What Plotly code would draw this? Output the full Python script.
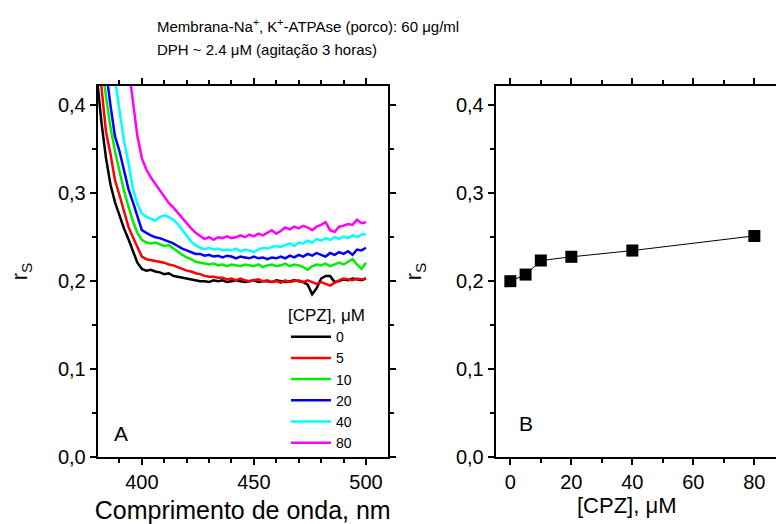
import plotly.graph_objects as go

# --- data ---
wavelength = list(range(380, 502, 2))  # nm

rs_0 = [0.430, 0.380, 0.340, 0.310, 0.290, 0.275, 0.260, 0.248, 0.234, 0.221,
        0.214, 0.212, 0.213, 0.211, 0.210, 0.208, 0.209, 0.206, 0.205, 0.204,
        0.203, 0.202, 0.201, 0.200, 0.200, 0.199, 0.201, 0.200, 0.201, 0.199,
        0.200, 0.201, 0.200, 0.199, 0.200, 0.201, 0.199, 0.200, 0.200, 0.199,
        0.201, 0.200, 0.199, 0.200, 0.201, 0.200, 0.199, 0.196, 0.185, 0.192,
        0.203, 0.206, 0.206, 0.199, 0.200, 0.202, 0.201, 0.203, 0.202, 0.201,
        0.203]
rs_5 = [0.470, 0.420, 0.370, 0.345, 0.315, 0.298, 0.280, 0.262, 0.250, 0.238,
        0.228, 0.225, 0.224, 0.223, 0.222, 0.221, 0.219, 0.218, 0.216, 0.214,
        0.212, 0.211, 0.209, 0.208, 0.206, 0.205, 0.205, 0.204, 0.204, 0.202,
        0.203, 0.201, 0.203, 0.201, 0.200, 0.201, 0.202, 0.200, 0.201, 0.199,
        0.200, 0.198, 0.201, 0.199, 0.200, 0.201, 0.199, 0.201, 0.199, 0.197,
        0.199, 0.197, 0.195, 0.198, 0.201, 0.203, 0.202, 0.201, 0.203, 0.202,
        0.203]
rs_10 = [0.520, 0.450, 0.410, 0.375, 0.348, 0.325, 0.303, 0.285, 0.268, 0.255,
         0.247, 0.244, 0.243, 0.244, 0.242, 0.240, 0.241, 0.237, 0.234, 0.230,
         0.227, 0.225, 0.222, 0.221, 0.220, 0.219, 0.220, 0.218, 0.219, 0.217,
         0.219, 0.218, 0.217, 0.219, 0.218, 0.217, 0.219, 0.216, 0.218, 0.219,
         0.217, 0.218, 0.220, 0.217, 0.219, 0.218, 0.216, 0.213, 0.217, 0.219,
         0.218, 0.220, 0.217, 0.219, 0.221, 0.219, 0.222, 0.225, 0.219, 0.214,
         0.221]
rs_20 = [0.560, 0.500, 0.440, 0.400, 0.365, 0.348, 0.325, 0.305, 0.290, 0.274,
         0.258, 0.255, 0.252, 0.250, 0.249, 0.247, 0.245, 0.243, 0.240, 0.237,
         0.235, 0.233, 0.231, 0.231, 0.229, 0.230, 0.228, 0.229, 0.227, 0.229,
         0.228, 0.226, 0.228, 0.227, 0.226, 0.228, 0.226, 0.227, 0.225, 0.227,
         0.226, 0.228, 0.226, 0.229, 0.227, 0.230, 0.228, 0.231, 0.229, 0.232,
         0.230, 0.228, 0.232, 0.230, 0.233, 0.231, 0.234, 0.230, 0.236, 0.235,
         0.238]
rs_40 = [0.660, 0.600, 0.540, 0.480, 0.430, 0.395, 0.360, 0.335, 0.305, 0.288,
         0.277, 0.273, 0.271, 0.269, 0.273, 0.275, 0.273, 0.270, 0.265, 0.258,
         0.251, 0.245, 0.241, 0.238, 0.236, 0.238, 0.236, 0.237, 0.235, 0.236,
         0.235, 0.237, 0.234, 0.236, 0.235, 0.233, 0.236, 0.238, 0.237, 0.239,
         0.240, 0.239, 0.241, 0.243, 0.240, 0.244, 0.243, 0.246, 0.244, 0.248,
         0.246, 0.249, 0.247, 0.250, 0.248, 0.251, 0.249, 0.252, 0.250, 0.253,
         0.253]
rs_80 = [0.800, 0.720, 0.650, 0.580, 0.520, 0.480, 0.450, 0.445, 0.405, 0.365,
         0.340, 0.327, 0.318, 0.311, 0.304, 0.296, 0.289, 0.284, 0.278, 0.272,
         0.265, 0.260, 0.255, 0.251, 0.248, 0.250, 0.247, 0.250, 0.249, 0.251,
         0.249, 0.250, 0.252, 0.250, 0.253, 0.251, 0.254, 0.252, 0.255, 0.258,
         0.254, 0.257, 0.261, 0.259, 0.262, 0.260, 0.263, 0.261, 0.258, 0.262,
         0.264, 0.267, 0.258, 0.256, 0.262, 0.263, 0.265, 0.264, 0.270, 0.266,
         0.267]

cpz_labels = ["0", "5", "10", "20", "40", "80"]
spectra = [rs_0, rs_5, rs_10, rs_20, rs_40, rs_80]
colors = ["black", "red", "#00ee00", "blue", "cyan", "magenta"]

cpz_conc = [0, 5, 10, 20, 40, 80]   # uM
rs_plateau = [0.200, 0.2075, 0.2235, 0.2277, 0.2348, 0.2515]

FONT = "Liberation Sans, Arial, sans-serif"
W, H = 776, 524

fig = go.Figure()

# --- panel A: spectra ---
for lab, ys, col in zip(cpz_labels, spectra, colors):
    fig.add_trace(go.Scatter(
        x=wavelength, y=ys, mode="lines", name=lab,
        line=dict(color=col, width=2.5),
        xaxis="x", yaxis="y"
    ))

# --- panel B: rs vs [CPZ] ---
fig.add_trace(go.Scatter(
    x=cpz_conc, y=rs_plateau, mode="lines+markers",
    line=dict(color="black", width=1),
    marker=dict(symbol="square", size=12, color="black"),
    xaxis="x2", yaxis="y2", showlegend=False
))

axis_common = dict(
    showline=True, linecolor="black", linewidth=2, automargin=False,
    ticks="outside", ticklen=6, tickwidth=1.5, tickcolor="black",
    showgrid=False, zeroline=False,
    tickfont=dict(family=FONT, size=20, color="black"),
)
minor_ticks = dict(ticklen=4, tickwidth=1.5, tickcolor="black", ticks="outside")
y_common = dict(axis_common, range=[0, 0.422], dtick=0.1, tick0=0,
                tickformat=".1f", minor=dict(minor_ticks, dtick=0.05),
                domain=[1 - 457 / H, 1 - 86 / H])


def note(text, px, py, size, xanchor="center"):
    return dict(text=text, xref="paper", yref="paper", x=px / W, y=1 - py / H,
                xanchor=xanchor, yanchor="middle", showarrow=False,
                font=dict(family=FONT, size=size))


fig.update_layout(
    width=W, height=H,
    paper_bgcolor="white", plot_bgcolor="white",
    margin=dict(l=0, r=0, t=0, b=0),
    separators=",.",
    font=dict(family=FONT, color="black"),
    xaxis=dict(axis_common, domain=[97.7 / W, 387.7 / W], range=[380.3, 509.7],
               dtick=50, tick0=400, mirror="allticks",
               minor=dict(minor_ticks, dtick=10),
               title=dict(text="Comprimento de onda, nm", standoff=13,
                          font=dict(family=FONT, size=25))),
    yaxis=dict(y_common, mirror="allticks",
               title=dict(text="r<sub>S</sub>", standoff=24,
                          font=dict(family=FONT, size=22))),
    xaxis2=dict(axis_common, domain=[495.7 / W, 1.0], range=[-4.8, 87.1],
                dtick=20, tick0=0, mirror="allticks", anchor="y2",
                minor=dict(minor_ticks, dtick=10)),
    yaxis2=dict(y_common, anchor="x2", mirror=False,
                title=dict(text="r<sub>S</sub>", standoff=28,
                           font=dict(family=FONT, size=22))),
    legend=dict(
        x=286 / W, y=1 - 299 / H, xanchor="left", yanchor="top",
        bgcolor="rgba(0,0,0,0)",
        font=dict(family=FONT, size=14),
        title=dict(text="[CPZ], μM", font=dict(family=FONT, size=17)),
        tracegroupgap=0, itemwidth=40,
    ),
    annotations=[
        note("Membrana-Na<sup>+</sup>, K<sup>+</sup>-ATPAse (porco): 60 μg/ml",
             155, 25, 15, "left"),
        note("DPH ~ 2.4 μM (agitação 3 horas)", 155, 49, 15, "left"),
        note("A", 121, 433, 21),
        note("B", 526, 423, 21),
        note("[CPZ], μM", 626, 505, 22),
    ],
)

fig.write_html("out.html", config={"displayModeBar": False},
               post_script="document.body.style.margin='0';")
